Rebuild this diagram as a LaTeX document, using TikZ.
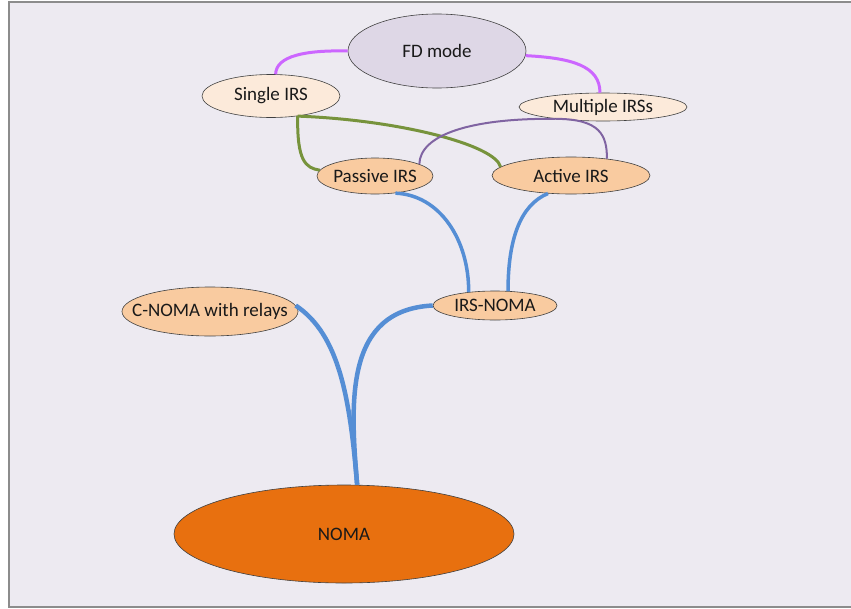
\documentclass[tikz,border=0pt]{standalone}
\usepackage{fontspec}
\setmainfont{Carlito}
\usetikzlibrary{shapes.geometric}
\definecolor{bgfill}{HTML}{EDEAF1}
\definecolor{framegray}{HTML}{8C8C8C}
\definecolor{fdfill}{HTML}{DED7E6}
\definecolor{lightpeach}{HTML}{FCEADA}
\definecolor{peach}{HTML}{F9CBA0}
\definecolor{nomaorange}{HTML}{E8700F}
\definecolor{pinkviolet}{HTML}{CC66FF}
\definecolor{olivegreen}{HTML}{77933C}
\definecolor{dullviolet}{HTML}{8064A2}
\definecolor{linkblue}{HTML}{558ED5}
% label set in a zero-width box, so the ellipse takes its size from minimum width
\newcommand{\toplabel}[1]{\makebox[0pt][c]{#1}}
\tikzset{
  x=1pt, y=-1pt,
  topic/.style={ellipse, draw=black!75, line width=0.6pt, inner sep=0pt,
    font=\fontsize{19}{22}\selectfont, text=black!90},
  fdlink/.style={draw=pinkviolet, line width=3pt},
  greenlink/.style={draw=olivegreen, line width=3pt},
  violetlink/.style={draw=dullviolet, line width=2pt},
  bluelink/.style={draw=linkblue, line width=3.5pt},
  trunk/.style={draw=linkblue, line width=4.5pt},
}
\begin{document}
\begin{tikzpicture}
  % canvas and frame
  \fill[white] (0,0) rectangle (851,608);
  \useasboundingbox (0,0) rectangle (851,608);
  \fill[bgfill] (9,2) rectangle (851,607);
  \draw[framegray, line width=2pt] (851,2) -- (9,2) -- (9,607) -- (851,607);

  % topics
  \node[topic, fill=fdfill, minimum width=178pt, minimum height=74pt] (fd) at (437,51) {\toplabel{FD mode}};
  \node[topic, fill=lightpeach, minimum width=138pt, minimum height=43pt] (single) at (271,96) {\toplabel{Single IRS}};
  \node[topic, fill=lightpeach, minimum width=168pt, minimum height=28pt] (multiple) at (603,107) {\toplabel{Multiple IRSs}};
  \node[topic, fill=peach, minimum width=116pt, minimum height=36pt] (passive) at (375,176) {\toplabel{Passive IRS}};
  \node[topic, fill=peach, minimum width=158pt, minimum height=37pt] (active) at (571,175.5) {\toplabel{Active IRS}};
  \node[topic, fill=peach, minimum width=124pt, minimum height=29pt] (irsnoma) at (495,305.5) {\toplabel{IRS-NOMA}};
  \node[topic, fill=peach, minimum width=176pt, minimum height=49pt] (cnoma) at (210,311.5) {\toplabel{C-NOMA with relays}};
  \node[topic, fill=nomaorange, minimum width=340pt, minimum height=98pt] (noma) at (344,534) {\toplabel{NOMA}};

  % FD mode links
  \draw[fdlink] (fd.west) .. controls (305,50) and (276,56) .. (single.78);
  \draw[fdlink] (fd.-3) .. controls (572,58) and (600,66) .. (multiple.102);

  % single IRS links
  \draw[greenlink] (single.-37) .. controls (297,160) and (305,168) .. (passive.174);
  \draw[greenlink] (single.-37) .. controls (400,120) and (495,145) .. (active.173);

  % multiple IRSs links
  \draw[violetlink] (multiple.194) .. controls (470,118) and (420,135) .. (passive.15);
  \draw[violetlink] (multiple.194) .. controls (600,119) and (607,135) .. (active.25);

  % IRS-NOMA links
  \draw[bluelink] (passive.-40) .. controls (440,195) and (469,240) .. (irsnoma.153);
  \draw[bluelink] (active.218) .. controls (520,205) and (508,240) .. (irsnoma.48);

  % NOMA trunk
  \draw[trunk] (noma.75) .. controls (350,400) and (340,335) .. (cnoma.4);
  \draw[trunk] (noma.75) .. controls (350,400) and (345,310) .. (irsnoma.west);
\end{tikzpicture}
\end{document}
